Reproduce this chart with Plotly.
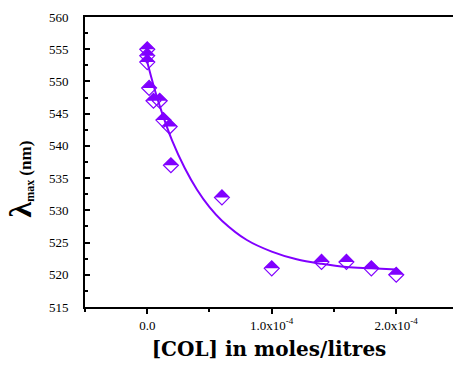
import plotly.graph_objects as go

# measured data: [COL] (mol/L) vs lambda_max (nm)
col = [0.0, 0.0, 0.0, 0.015e-4, 0.05e-4, 0.1e-4, 0.13e-4, 0.18e-4, 0.19e-4,
       0.6e-4, 1.0e-4, 1.4e-4, 1.6e-4, 1.8e-4, 2.0e-4]
lam = [555, 554, 553, 549, 547, 547, 544, 543, 537, 532, 521, 522, 522, 521, 520]

# fitted decay curve
fit_x = [0.0, 0.05e-4, 0.1e-4, 0.2e-4, 0.3e-4, 0.4e-4, 0.5e-4, 0.6e-4, 0.8e-4,
         1.0e-4, 1.2e-4, 1.4e-4, 1.6e-4, 1.8e-4, 2.0e-4]
fit_y = [553.0, 549.4, 546.2, 540.8, 536.6, 533.2, 530.5, 528.4, 525.4,
         523.6, 522.4, 521.7, 521.2, 521.0, 520.8]

x_tickvals = [0.0, 1.0e-4, 2.0e-4]
x_ticktext = ["0.0", "1.0x10<sup>-4</sup>", "2.0x10<sup>-4</sup>"]

VIOLET = "rgb(128,0,255)"
FONT = "Liberation Serif"
TFONT = "DejaVu Serif"

W, H = 453, 369
ML, MR, MT, MB = 85, 0, 17, 62
XR = [-0.5e-4, 2.456e-4]
YR = [515, 560]

# half-diamond size in pixels, converted to axis units via the axis scale
hw = 7.5
dx = hw * (XR[1] - XR[0]) / (W - ML - MR)
dy = hw * (YR[1] - YR[0]) / (H - MT - MB)
px, py = [], []
for xv, yv in zip(col, lam):
    px += [xv - dx, xv + dx, xv, xv - dx, None]
    py += [yv, yv, yv + dy, yv, None]

fig = go.Figure()
fig.add_trace(go.Scatter(x=fit_x, y=fit_y, mode="lines", line=dict(color=VIOLET, width=2, shape="spline"),
                         hoverinfo="skip", showlegend=False))
fig.add_trace(go.Scatter(x=col, y=lam, mode="markers",
                         marker=dict(symbol="diamond-open", size=11.5, color=VIOLET, line=dict(width=1.2, color=VIOLET)),
                         showlegend=False))
fig.add_trace(go.Scatter(x=px, y=py, mode="lines", fill="toself", fillcolor=VIOLET,
                         line=dict(width=0, color=VIOLET), hoverinfo="skip", showlegend=False))

fig.update_layout(
    width=W, height=H,
    margin=dict(l=ML, r=MR, t=MT, b=MB),
    plot_bgcolor="white", paper_bgcolor="white",
    annotations=[dict(xref="paper", yref="paper", x=-0.1766, y=0.44, xanchor="center", yanchor="middle",
                      textangle=-90, showarrow=False,
                      text="<b><span style='font-size:32px'>λ</span><sub>max</sub> (nm)</b>",
                      font=dict(size=17, family=FONT, color="black"))],
)
fig.update_xaxes(range=XR, tickvals=x_tickvals, ticktext=x_ticktext,
                 showgrid=False, zeroline=False, showline=True, linecolor="black", linewidth=2,
                 mirror=True, ticks="outside", ticklen=5, tickwidth=1.5, tickcolor="black",
                 minor=dict(dtick=0.5e-4, tick0=0, ticks="outside", ticklen=3, tickwidth=1.5, tickcolor="black"),
                 tickfont=dict(size=13, family=FONT, color="black"),
                 title=dict(text="<b>[COL] in moles/litres</b>", font=dict(size=20, family=TFONT, color="black"),
                            standoff=10))
fig.update_yaxes(range=YR, dtick=5, tick0=515,
                 showgrid=False, zeroline=False, showline=True, linecolor="black", linewidth=2,
                 ticks="inside", ticklen=5, tickwidth=1.5, tickcolor="black",
                 minor=dict(dtick=2.5, tick0=515, ticks="inside", ticklen=3, tickwidth=1.5, tickcolor="black"),
                 tickfont=dict(size=13, family=FONT, color="black"), ticklabelstandoff=12)

fig.write_html("out.html")
